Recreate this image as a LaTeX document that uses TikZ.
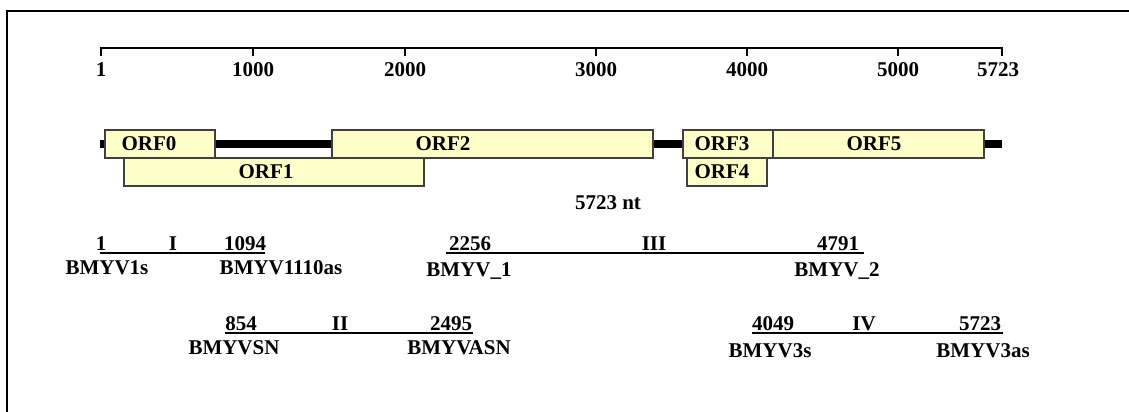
\documentclass[tikz,border=0pt]{standalone}
\usepackage{fontspec}
\setmainfont{Liberation Serif}
\usetikzlibrary{positioning}
\definecolor{orffill}{HTML}{FFFFC8}
\tikzset{
  lab/.style={font=\fontsize{10.5}{12}\selectfont\bfseries, inner sep=0pt},
  orfbox/.style={draw=black!75, fill=orffill, line width=0.6pt},
  ruler/.style={line width=1.4pt},
  tickmark/.style={line width=1pt},
  genome/.style={line width=4pt},
  frag/.style={line width=1.3pt},
  frame/.style={line width=0.8pt},
}
\begin{document}
\begin{tikzpicture}[x=0.5pt, y=-0.5pt]
\useasboundingbox (0,0) rectangle (1129,412);
\draw[frame] (7,412) -- (7,11) -- (1129,11);

\coordinate (s0) at (101,48);
\coordinate (s1) at (1002,48);
\draw[ruler] (s0) -- (s1);
\foreach \x/\lx/\t [count=\i] in {101/101/1, 253/253/1000, 405/405/2000, 596/596/3000, 747/747/4000, 898/898/5000, 1002/998/5723} {
  \draw[tickmark] (\x,47.3) -- (\x,56);
  \node[lab] (tick\i) at (\lx,70) {\t};
}

\coordinate (g0) at (100,144);
\coordinate (g1) at (1002,144);
\draw[genome] (g0) -- (g1);
\foreach \n/\xa/\xb/\ya/\xt in {0/105/215/130/149, 2/332/653/130/443, 3/683/773/130/722, 5/773/984/130/874, 1/124/424/158/266, 4/687/767/158/722} {
  \draw[orfbox] (\xa,\ya) rectangle (\xb,\ya+28);
  \node[lab] (orf\n) at (\xt,\ya+14) {ORF\n};
}
\node[lab] (len) at (608,203) {5723 nt};

\foreach \f/\xa/\xb/\y in {1/100/265/253, 2/225/473/333, 3/446/864/253, 4/752/1003/333} {
  \coordinate (fa\f) at (\xa,\y);
  \coordinate (fb\f) at (\xb,\y);
  \draw[frag] (fa\f) -- (fb\f);
}
\foreach \x/\y/\t [count=\i] in {101/251/1, 173/251/I, 245/251/1094, 470/251/2256, 654/251/III, 838/251/4791, 241/331/854, 340/331/II, 451/331/2495, 773/331/4049, 864/331/IV, 980/331/5723} {
  \node[lab, anchor=south] (pos\i) at (\x,\y) {\t};
}
\foreach \x/\y/\t [count=\i] in {107/260/BMYV1s, 281/260/BMYV1110as, 469/262/BMYV\_1, 837/262/BMYV\_2, 234/340/BMYVSN, 459/340/BMYVASN, 770/343/BMYV3s, 983/343/BMYV3as} {
  \node[lab, anchor=north] (primer\i) at (\x,\y) {\t};
}
\end{tikzpicture}
\end{document}
